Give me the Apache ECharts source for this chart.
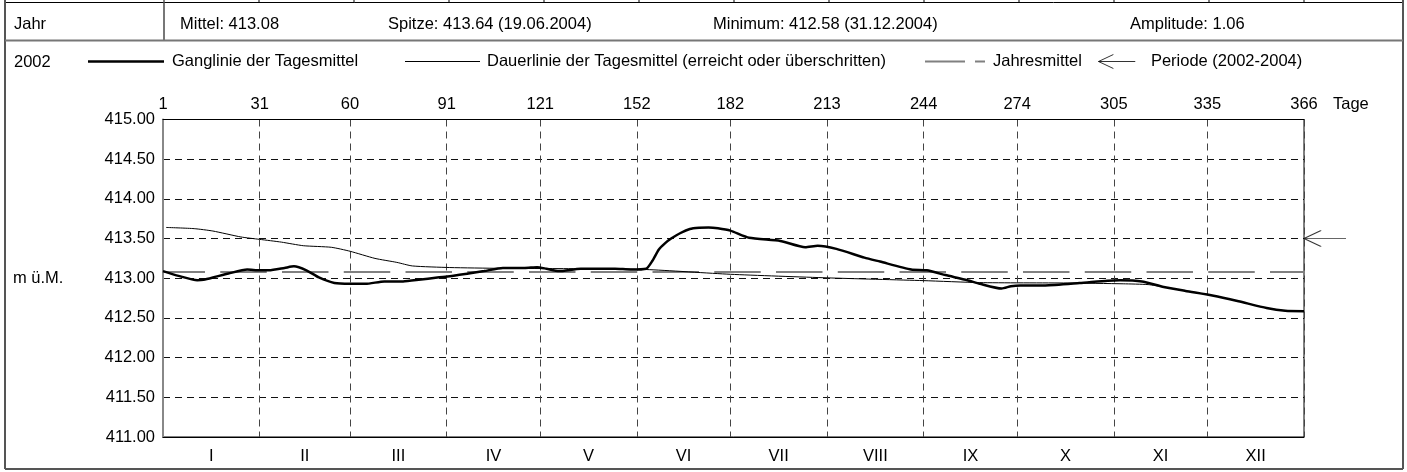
<!DOCTYPE html>
<html>
<head>
<meta charset="utf-8">
<script src="https://cdn.jsdelivr.net/npm/echarts@6/dist/echarts.min.js"></script>
<style>
  html, body { margin: 0; padding: 0; background: #fff; }
  #chart { width: 1407px; height: 472px; }
</style>
</head>
<body>
<div id="chart"></div>
<script>
// Tage (Tag im Jahr) und Werte der Ganglinie der Tagesmittel
var gangTage = [0, 5, 11, 13, 17, 21, 27, 31, 34, 39, 42, 46, 50, 55, 60, 65, 71, 77, 82, 88,
  92, 98, 103, 109, 116, 120, 123, 127, 134, 145, 150, 155, 157, 159, 161, 163, 166, 169, 172, 175,
  178, 182, 188, 198, 206, 210, 216, 225, 230, 240, 245, 251, 258, 262, 269, 272, 275, 283, 294, 303,
  307, 314, 321, 328, 337, 345, 354, 360, 366];
var ganglinie = [413.09, 413.03, 412.975, 412.98, 413.02, 413.06, 413.11, 413.10, 413.10, 413.13,
  413.15, 413.10, 413.01, 412.94, 412.93, 412.93, 412.96, 412.96, 412.98, 413.01,
  413.025, 413.06, 413.09, 413.13, 413.13, 413.14, 413.12, 413.09, 413.12, 413.12,
  413.11, 413.12, 413.22, 413.36, 413.44, 413.50, 413.57, 413.62, 413.635, 413.64,
  413.63, 413.60, 413.51, 413.47, 413.39, 413.41, 413.37, 413.26, 413.21, 413.11,
  413.10, 413.04, 412.975, 412.93, 412.87, 412.90, 412.91, 412.91, 412.94, 412.97,
  412.975, 412.96, 412.89, 412.84, 412.78, 412.71, 412.625, 412.59, 412.585];

// Dauerlinie (erreicht oder ueberschritten)
var dauerTage = [1, 10, 16, 25, 31, 38, 45, 54, 60, 68, 75, 80, 92, 108, 134, 155, 182, 213, 244,
  262, 290, 308, 316, 321, 328, 337, 345, 354, 360, 366];
var dauerlinie = [413.64, 413.625, 413.595, 413.52, 413.49, 413.455, 413.41, 413.39, 413.34, 413.25,
  413.20, 413.155, 413.135, 413.125, 413.12, 413.11, 413.05, 413.005, 412.97,
  412.945, 412.94, 412.93, 412.92, 412.89, 412.84, 412.78, 412.71, 412.625, 412.59, 412.58];

var jahresMittel = 413.08;
var periodeMittel = 413.50;

// Achsen
var monatsGrenzen = [0, 31, 60, 91, 121, 152, 182, 213, 244, 274, 305, 335, 366];
var grenzLabels = ['1', '31', '60', '91', '121', '152', '182', '213', '244', '274', '305', '335', '366'];
var monate = ['I', 'II', 'III', 'IV', 'V', 'VI', 'VII', 'VIII', 'IX', 'X', 'XI', 'XII'];

// Kopfzeile
var jahr = '2002';
var kennwerte = ['Mittel: 413.08', 'Spitze: 413.64 (19.06.2004)', 'Minimum: 412.58 (31.12.2004)', 'Amplitude: 1.06'];

var FONT = "'Liberation Sans', Arial, sans-serif";
var FS = 16.5;
var arrowPath = 'path://M0,8 L17,0 M0,8 L17,16 M0,8 L42,8';

var monatsMitten = [];
for (var i = 0; i < monate.length; i++) {
  monatsMitten.push((monatsGrenzen[i] + monatsGrenzen[i + 1]) / 2);
}
function pairs(xs, ys) {
  var out = [];
  for (var i = 0; i < xs.length; i++) out.push([xs[i], ys[i]]);
  return out;
}

var myChart = echarts.init(document.getElementById('chart'));

// Tabellenrahmen
var gfx = [];
var stubs = [164, 259, 354, 449, 544, 639, 734, 829, 924, 1019, 1114, 1209, 1304];
stubs.forEach(function (x) {
  gfx.push({ type: 'line', shape: { x1: x, y1: 0, x2: x, y2: 3 }, style: { stroke: '#000', lineWidth: 1 } });
});
gfx.push({ type: 'line', shape: { x1: 5, y1: 2.5, x2: 1403, y2: 2.5 }, style: { stroke: '#000', lineWidth: 1 } });
gfx.push({ type: 'line', shape: { x1: 5, y1: 0, x2: 5, y2: 469 }, style: { stroke: '#555', lineWidth: 2 } });
gfx.push({ type: 'line', shape: { x1: 1403, y1: 0, x2: 1403, y2: 469 }, style: { stroke: '#555', lineWidth: 2 } });
gfx.push({ type: 'line', shape: { x1: 5, y1: 469, x2: 1403, y2: 469 }, style: { stroke: '#555', lineWidth: 2 } });
gfx.push({ type: 'line', shape: { x1: 5, y1: 40.5, x2: 1403, y2: 40.5 }, style: { stroke: '#777', lineWidth: 2 } });
gfx.push({ type: 'line', shape: { x1: 164, y1: 2.5, x2: 164, y2: 40.5 }, style: { stroke: '#777', lineWidth: 2 } });

var txt = function (x, y, s) {
  return { type: 'text', x: x, y: y, style: { text: s, font: FS + 'px ' + FONT, fill: '#000', textVerticalAlign: 'middle' } };
};
gfx.push(txt(14, 24, 'Jahr'));
gfx.push(txt(180, 24, kennwerte[0]));
gfx.push(txt(388, 24, kennwerte[1]));
gfx.push(txt(713, 24, kennwerte[2]));
gfx.push(txt(1130, 24, kennwerte[3]));
gfx.push(txt(14, 62, jahr));

function legendAt(left, name, icon, w, h, gap, extra) {
  return Object.assign({
    left: left, top: 53, padding: 0, itemGap: 0, selectedMode: false,
    data: [name], icon: icon, itemWidth: w, itemHeight: h,
    textStyle: { fontFamily: FONT, fontSize: FS, color: '#000', padding: [0, 0, 0, gap] }
  }, extra || {});
}

var option = {
  animation: false,
  textStyle: { fontFamily: FONT },
  graphic: gfx,
  legend: [
    legendAt(88, 'Ganglinie der Tagesmittel', 'rect', 76, 2.5, 3),
    legendAt(405, 'Dauerlinie der Tagesmittel (erreicht oder überschritten)', 'rect', 75, 1, 2),
    legendAt(925, 'Jahresmittel', 'path://M0,0 H40 V2 H0 Z M50,0 H60 V2 H50 Z', 60, 2, 3),
    legendAt(1098, 'Periode (2002-2004)', arrowPath, 38, 14, 10,
      { itemStyle: { color: 'transparent', borderColor: '#000', borderWidth: 1 } })
  ],
  grid: { left: 163, right: 103, top: 119.5, bottom: 35, show: true, borderColor: '#000', borderWidth: 1, backgroundColor: 'transparent' },
  xAxis: [{
    type: 'value', position: 'top', min: 0, max: 366,
    name: 'Tage', nameLocation: 'end', nameGap: 29,
    nameTextStyle: { fontFamily: FONT, fontSize: FS, color: '#000', verticalAlign: 'bottom', padding: [0, 0, 7, 0] },
    axisLine: { show: true, lineStyle: { color: '#000', width: 1 } },
    axisTick: { show: false, customValues: monatsGrenzen },
    axisLabel: {
      customValues: monatsGrenzen, margin: 7, fontSize: FS, color: '#000', fontFamily: FONT,
      formatter: function (v) { return grenzLabels[monatsGrenzen.indexOf(v)]; }
    },
    splitLine: { show: true, lineStyle: { color: '#444', type: [7, 5], width: 1 } }
  }, {
    type: 'value', position: 'bottom', min: 0, max: 366,
    axisLine: { show: true, lineStyle: { color: '#000', width: 1 } },
    axisTick: { show: false, customValues: monatsMitten },
    axisLabel: {
      customValues: monatsMitten, margin: 11, fontSize: FS, color: '#000', fontFamily: FONT,
      formatter: function (v) { return monate[monatsMitten.indexOf(v)]; }
    },
    splitLine: { show: false }
  }],
  yAxis: {
    type: 'value', min: 411, max: 415, interval: 0.5,
    name: 'm ü.M.', nameLocation: 'middle', nameGap: 150, nameRotate: 0,
    nameTextStyle: { fontFamily: FONT, fontSize: FS, color: '#000', align: 'left' },
    axisLine: { show: true, lineStyle: { color: '#888', width: 2 } },
    axisTick: { show: false },
    axisLabel: { margin: 8, fontSize: FS, color: '#000', fontFamily: FONT, formatter: function (v) { return v.toFixed(2); } },
    splitLine: { show: true, lineStyle: { color: '#111', type: [7, 5], width: 1 } }
  },
  series: [{
    name: 'Jahresmittel', type: 'line', xAxisIndex: 0, symbol: 'none', z: 2,
    color: '#808080',
    lineStyle: { color: '#808080', width: 2, type: [46.5, 15.25], dashOffset: 4.5 },
    data: [[0, jahresMittel], [366, jahresMittel]]
  }, {
    name: 'Dauerlinie der Tagesmittel (erreicht oder überschritten)', type: 'line', xAxisIndex: 0,
    symbol: 'none', z: 3, smooth: 0.2, color: '#000',
    lineStyle: { color: '#000', width: 1 },
    data: pairs(dauerTage, dauerlinie)
  }, {
    name: 'Ganglinie der Tagesmittel', type: 'line', xAxisIndex: 0,
    symbol: 'none', z: 4, smooth: 0.2, color: '#000',
    lineStyle: { color: '#000', width: 2.5 },
    data: pairs(gangTage, ganglinie)
  }, {
    name: 'Periode (2002-2004)', type: 'scatter', xAxisIndex: 0, clip: false, z: 5,
    symbol: arrowPath, symbolSize: [42, 16], symbolOffset: [21, 0],
    itemStyle: { color: 'transparent', borderColor: '#000', borderWidth: 1.2 },
    data: [[366, periodeMittel]]
  }]
};

myChart.setOption(option);
</script>
</body>
</html>
